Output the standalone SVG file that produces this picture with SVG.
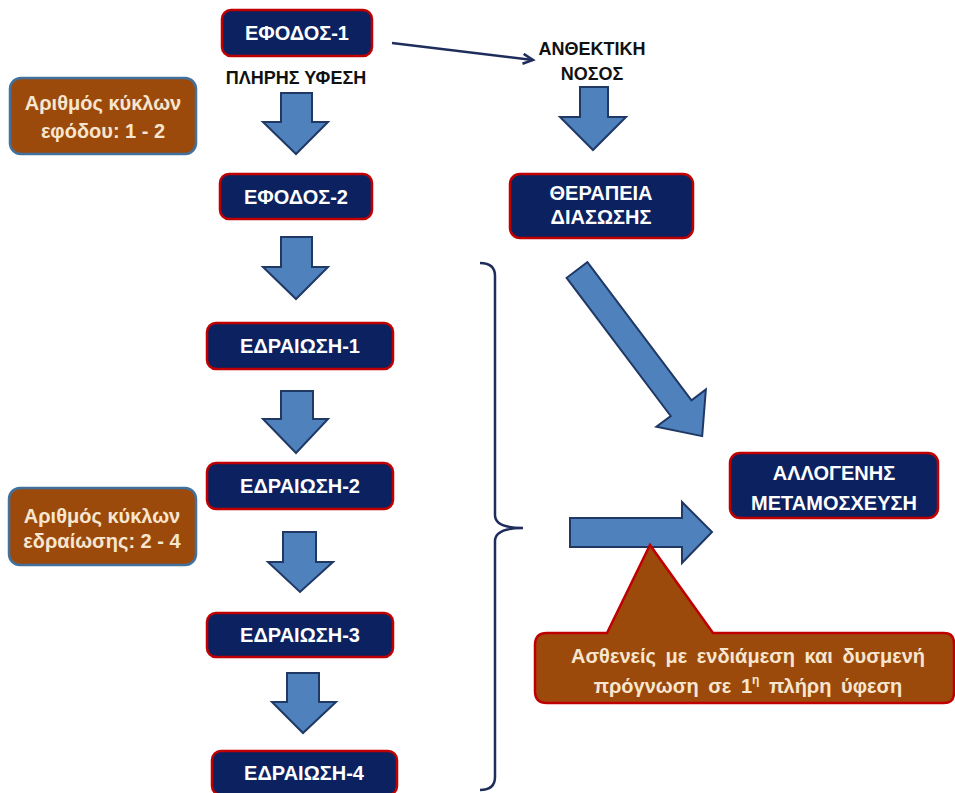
<svg xmlns="http://www.w3.org/2000/svg" width="955" height="793" viewBox="0 0 955 793">
<defs>
<style>
.nb{fill:#0C2160;stroke:#C00000;stroke-width:2.5}
.nt{fill:#FFFFFF;font-family:"Liberation Sans",Arial,sans-serif;font-weight:bold;font-size:20px;text-anchor:middle}
.ob{fill:#9C4A0C;stroke:#41719C;stroke-width:2.5}
.ot{fill:#F7E6CF;font-family:"Liberation Sans",Arial,sans-serif;font-weight:bold;font-size:20px;text-anchor:middle}
.lt{fill:#111111;font-family:"Liberation Sans",Arial,sans-serif;font-weight:bold;font-size:18px;text-anchor:middle}
.ba{fill:#4F81BD;stroke:#1F3864;stroke-width:2;stroke-linejoin:miter}
.thin{fill:none;stroke:#1F2D5C;stroke-width:2.5}
</style>
<marker id="vh" markerWidth="14" markerHeight="14" refX="11" refY="6" orient="auto" markerUnits="userSpaceOnUse">
<path d="M1,1 L11,6 L1,11" fill="none" stroke="#1F2D5C" stroke-width="2.5"/>
</marker>
</defs>
<rect width="955" height="793" fill="#FFFFFF"/>

<g id="connectors">
<line class="thin" x1="392" y1="43" x2="533" y2="60" marker-end="url(#vh)"/>
<polygon class="ba" points="281,93 312,93 312,122 328,122 296,154 263,122 281,122"/>
<polygon class="ba" points="281,237 312,237 312,267 328,267 296,299 263,267 281,267"/>
<polygon class="ba" points="281,391 313,391 313,419 328,419 296,453 263,419 281,419"/>
<polygon class="ba" points="283,532 316,532 316,562 333,562 300,592 268,562 283,562"/>
<polygon class="ba" points="287,673 319,673 319,702 336,702 303,733 272,702 287,702"/>
<polygon class="ba" points="580,87 608,87 608,117 626,117 593,150 560,117 580,117"/>
<polygon class="ba" points="0,-13 173,-13 173,-31 208,0 173,31 173,13 0,13" transform="translate(577,270) rotate(53)"/>
<polygon class="ba" points="570,518 682,518 682,502 712,532 682,563 682,547 570,547"/>
<path class="thin" d="M480,263 Q495,263 495,276 L495,515 Q495,528 523,528 Q495,528 495,541 L495,777 Q495,790 480,790"/>
</g>

<g id="efodos1">
<rect class="nb" x="222" y="10" width="150" height="46" rx="9"/>
<text class="nt" x="297" y="40">ΕΦΟΔΟΣ-1</text>
</g>
<g id="plires-yfesi">
<text class="lt" x="296" y="84">ΠΛΗΡΗΣ ΥΦΕΣΗ</text>
</g>
<g id="kykloi-efodou">
<rect class="ob" x="10" y="78" width="186" height="76" rx="11"/>
<text class="ot" x="103" y="110">Αριθμός κύκλων</text>
<text class="ot" x="103" y="138">εφόδου: 1 - 2</text>
</g>
<g id="efodos2">
<rect class="nb" x="220" y="174" width="152" height="45" rx="9"/>
<text class="nt" x="296" y="204">ΕΦΟΔΟΣ-2</text>
</g>
<g id="edraiosi1">
<rect class="nb" x="207" y="323" width="186" height="46" rx="9"/>
<text class="nt" x="300" y="353">ΕΔΡΑΙΩΣΗ-1</text>
</g>
<g id="edraiosi2">
<rect class="nb" x="207" y="463" width="186" height="46" rx="9"/>
<text class="nt" x="300" y="493">ΕΔΡΑΙΩΣΗ-2</text>
</g>
<g id="kykloi-edraiosis">
<rect class="ob" x="9" y="488" width="187" height="77" rx="11"/>
<text class="ot" x="102" y="523">Αριθμός κύκλων</text>
<text class="ot" x="102" y="548">εδραίωσης: 2 - 4</text>
</g>
<g id="edraiosi3">
<rect class="nb" x="207" y="613" width="186" height="44" rx="9"/>
<text class="nt" x="300" y="642">ΕΔΡΑΙΩΣΗ-3</text>
</g>
<g id="edraiosi4">
<rect class="nb" x="212" y="751" width="185" height="44" rx="9"/>
<text class="nt" x="304" y="780">ΕΔΡΑΙΩΣΗ-4</text>
</g>
<g id="anthektiki">
<text class="lt" x="592" y="55">ΑΝΘΕΚΤΙΚΗ</text>
<text class="lt" x="592" y="80">ΝΟΣΟΣ</text>
</g>
<g id="therapeia">
<rect class="nb" x="510" y="174" width="183" height="64" rx="10"/>
<text class="nt" x="601" y="200">ΘΕΡΑΠΕΙΑ</text>
<text class="nt" x="601" y="224">ΔΙΑΣΩΣΗΣ</text>
</g>
<g id="allogenis">
<rect class="nb" x="730" y="453" width="208" height="65" rx="10"/>
<text class="nt" x="834" y="480" font-size="21">ΑΛΛΟΓΕΝΗΣ</text>
<text class="nt" x="834" y="510" font-size="21">ΜΕΤΑΜΟΣΧΕΥΣΗ</text>
</g>
<g id="callout">
<path d="M547,633 L607,633 L650,545 L713,633 L944,633 Q954,633 954,643 L954,693 Q954,703 944,703 L547,703 Q535,703 535,691 L535,645 Q535,633 547,633 Z" fill="#9C4A0C" stroke="#C00000" stroke-width="2.5"/>
<text class="ot" x="748" y="663" font-size="21" word-spacing="4">Ασθενείς με ενδιάμεση και δυσμενή</text>
<text class="ot" x="748" y="693" font-size="21" word-spacing="4">πρόγνωση σε 1<tspan font-size="12" dy="-9">η</tspan><tspan dy="9"> πλήρη ύφεση</tspan></text>
</g>
</svg>
